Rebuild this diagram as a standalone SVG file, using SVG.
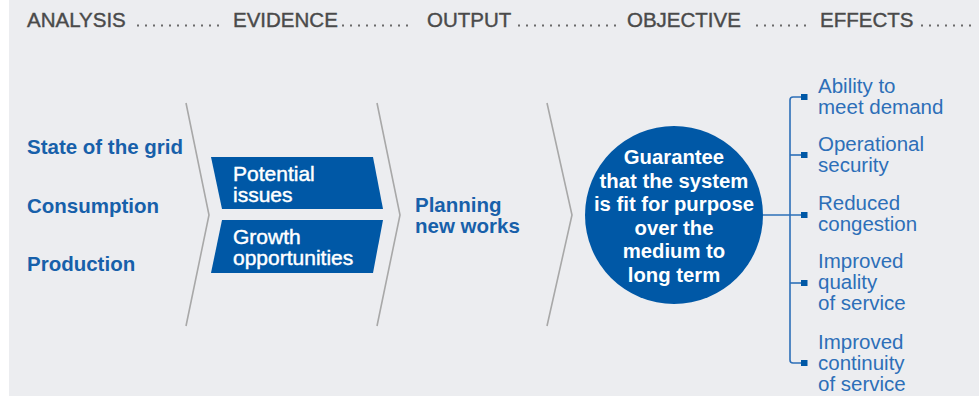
<svg xmlns="http://www.w3.org/2000/svg" width="979" height="396" viewBox="0 0 979 396">
<defs>
<style>
.hd{font-family:"Liberation Sans",Arial,sans-serif;font-size:20.5px;fill:#4a4a4a;stroke:#4a4a4a;stroke-width:0.4px}
.dots{stroke:#6a6a6a;stroke-width:2;stroke-dasharray:2 6;fill:none}
.lbl{font-family:"Liberation Sans",Arial,sans-serif;font-size:20.5px;font-weight:bold;fill:#1760aa}
.box{fill:#0058a6}
.bx{font-family:"Liberation Sans",Arial,sans-serif;font-size:21px;fill:#ffffff;stroke:#ffffff;stroke-width:0.45px}
.ct{font-family:"Liberation Sans",Arial,sans-serif;font-size:20.3px;font-weight:bold;fill:#ffffff;text-anchor:middle}
.chev{stroke:#a8a8a8;stroke-width:1.6;fill:none}
.eff{font-family:"Liberation Sans",Arial,sans-serif;font-size:20.5px;fill:#2d6fb8}
.conn{stroke:#2d6fb8;stroke-width:1.6;fill:none}
.sq{fill:#0058a6}
</style>
</defs>
<rect x="0" y="0" width="979" height="396" fill="#ffffff"/>
<rect x="9" y="0" width="970" height="396" fill="#ecedf0"/>

<g id="header">
<text class="hd" x="27" y="27">ANALYSIS</text>
<line class="dots" x1="137" y1="25.5" x2="222" y2="25.5"/>
<text class="hd" x="233" y="27">EVIDENCE</text>
<line class="dots" x1="342" y1="25.5" x2="412" y2="25.5"/>
<text class="hd" x="427" y="27">OUTPUT</text>
<line class="dots" x1="518" y1="25.5" x2="620" y2="25.5"/>
<text class="hd" x="627" y="27">OBJECTIVE</text>
<line class="dots" x1="756" y1="25.5" x2="812" y2="25.5"/>
<text class="hd" x="820" y="27">EFFECTS</text>
<line class="dots" x1="921" y1="25.5" x2="977" y2="25.5"/>
</g>

<g id="chevrons">
<polyline class="chev" points="186,103 209,215 186,326"/>
<polyline class="chev" points="377,103 400,215 377,326"/>
<polyline class="chev" points="547,103 572,215 547,326"/>
</g>

<g id="analysis">
<text class="lbl" x="27" y="154">State of the grid</text>
<text class="lbl" x="27" y="213">Consumption</text>
<text class="lbl" x="27" y="271">Production</text>
</g>

<g id="potential-issues">
<polygon class="box" points="211,157 373,157 383,209 222,209"/>
<text class="bx" x="233" y="180.5">Potential</text>
<text class="bx" x="233" y="201.5">issues</text>
</g>

<g id="growth-opportunities">
<polygon class="box" points="222,220 383,220 373,273 211,273"/>
<text class="bx" x="233" y="243.5">Growth</text>
<text class="bx" x="233" y="264.5">opportunities</text>
</g>

<g id="planning">
<text class="lbl" x="415" y="212">Planning</text>
<text class="lbl" x="415" y="233">new works</text>
</g>

<g id="objective">
<circle cx="674" cy="215" r="89" fill="#0058a6"/>
<text class="ct" x="674" y="164">Guarantee</text>
<text class="ct" x="674" y="187.5">that the system</text>
<text class="ct" x="674" y="211">is fit for purpose</text>
<text class="ct" x="674" y="234.5">over the</text>
<text class="ct" x="674" y="258">medium to</text>
<text class="ct" x="674" y="281.5">long term</text>
</g>

<g id="connectors">
<line class="conn" x1="763" y1="215" x2="801" y2="215"/>
<path class="conn" d="M801,97 H793 Q790,97 790,100 V360 Q790,363 793,363 H801"/>
<line class="conn" x1="790" y1="155" x2="801" y2="155"/>
<line class="conn" x1="790" y1="283" x2="801" y2="283"/>
<rect class="sq" x="801" y="94" width="6.5" height="6"/>
<rect class="sq" x="801" y="152" width="6.5" height="6"/>
<rect class="sq" x="801" y="212" width="6.5" height="6"/>
<rect class="sq" x="801" y="280" width="6.5" height="6"/>
<rect class="sq" x="801" y="360" width="6.5" height="6"/>
</g>

<g id="effect-ability">
<text class="eff" x="818" y="92.5">Ability to</text>
<text class="eff" x="818" y="113.5">meet demand</text>
</g>
<g id="effect-security">
<text class="eff" x="818" y="151">Operational</text>
<text class="eff" x="818" y="172">security</text>
</g>
<g id="effect-congestion">
<text class="eff" x="818" y="209.5">Reduced</text>
<text class="eff" x="818" y="230.5">congestion</text>
</g>
<g id="effect-quality">
<text class="eff" x="818" y="268">Improved</text>
<text class="eff" x="818" y="289">quality</text>
<text class="eff" x="818" y="310">of service</text>
</g>
<g id="effect-continuity">
<text class="eff" x="818" y="348.5">Improved</text>
<text class="eff" x="818" y="369.5">continuity</text>
<text class="eff" x="818" y="390.5">of service</text>
</g>
</svg>
